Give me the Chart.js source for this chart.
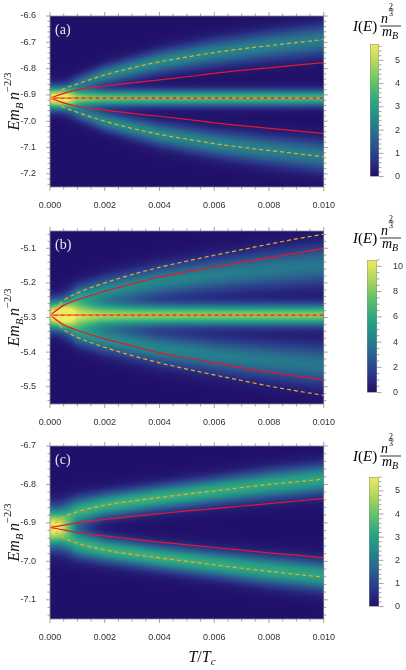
<!DOCTYPE html>
<html>
<head>
<meta charset="utf-8">
<script src="https://cdn.jsdelivr.net/npm/chart.js@4.4.1/dist/chart.umd.min.js"></script>
<style>
  body { margin: 0; background: #fff; }
  #wrap { position: relative; width: 406px; height: 670px; overflow: hidden; }
  canvas { position: absolute; }
</style>
</head>
<body>
<div id="wrap">
  <canvas id="pa" width="340" height="210" style="left:0;top:0"></canvas>
  <canvas id="pb" width="340" height="212" style="left:0;top:215px"></canvas>
  <canvas id="pc" width="340" height="240" style="left:0;top:430px"></canvas>
  <canvas id="ca" width="61" height="190" style="left:345px;top:0"></canvas>
  <canvas id="cb" width="61" height="196" style="left:345px;top:210px"></canvas>
  <canvas id="cc" width="61" height="190" style="left:345px;top:430px"></canvas>
</div>
<script>
const tVals = [0, 0.0005, 0.001, 0.002, 0.003, 0.004, 0.005, 0.006, 0.007, 0.008, 0.009, 0.010];
const xTicks = [0, 0.002, 0.004, 0.006, 0.008, 0.010];

// panel (a) curves
const aRedUp  = [-6.912, -6.894, -6.881, -6.866, -6.854, -6.843, -6.831, -6.818, -6.807, -6.797, -6.787, -6.777];
const aRedMid = [-6.912, -6.912, -6.912, -6.912, -6.912, -6.912, -6.912, -6.912, -6.912, -6.912, -6.912, -6.912];
const aRedLow = [-6.912, -6.930, -6.943, -6.958, -6.970, -6.981, -6.993, -7.006, -7.017, -7.027, -7.037, -7.046];
const aOrUp   = [-6.912, -6.877, -6.858, -6.824, -6.797, -6.774, -6.756, -6.739, -6.725, -6.713, -6.701, -6.689];
const aOrMid  = [-6.912, -6.912, -6.912, -6.912, -6.912, -6.912, -6.912, -6.912, -6.912, -6.912, -6.912, -6.912];
const aOrLow  = [-6.912, -6.947, -6.966, -7.000, -7.027, -7.050, -7.068, -7.085, -7.099, -7.111, -7.123, -7.135];
const aYTicks = [-7.2, -7.1, -7.0, -6.9, -6.8, -6.7, -6.6];

// panel (b) curves
const bRedUp  = [-5.293, -5.265, -5.249, -5.224, -5.203, -5.183, -5.168, -5.154, -5.140, -5.127, -5.114, -5.101];
const bRedMid = [-5.293, -5.293, -5.293, -5.293, -5.293, -5.293, -5.293, -5.293, -5.293, -5.293, -5.293, -5.293];
const bRedLow = [-5.293, -5.321, -5.337, -5.362, -5.382, -5.402, -5.417, -5.431, -5.445, -5.458, -5.469, -5.480];
const bOrUp   = [-5.293, -5.251, -5.229, -5.200, -5.176, -5.155, -5.137, -5.120, -5.104, -5.088, -5.073, -5.059];
const bOrMid  = [-5.293, -5.293, -5.293, -5.293, -5.293, -5.293, -5.293, -5.293, -5.293, -5.293, -5.293, -5.293];
const bOrLow  = [-5.293, -5.335, -5.357, -5.386, -5.410, -5.431, -5.449, -5.466, -5.482, -5.498, -5.512, -5.525];
const bYTicks = [-5.5, -5.4, -5.3, -5.2, -5.1];

// panel (c) curves
const cRedUp  = [-6.912, -6.906, -6.900, -6.891, -6.883, -6.876, -6.869, -6.863, -6.856, -6.850, -6.843, -6.837];
const cRedLow = [-6.912, -6.918, -6.925, -6.934, -6.942, -6.950, -6.957, -6.964, -6.971, -6.978, -6.984, -6.991];
const cOrUp   = [-6.912, -6.885, -6.871, -6.854, -6.843, -6.834, -6.825, -6.817, -6.808, -6.800, -6.793, -6.786];
const cOrLow  = [-6.912, -6.939, -6.953, -6.970, -6.982, -6.991, -7.000, -7.009, -7.018, -7.026, -7.034, -7.041];
const cYTicks = [-7.1, -7.0, -6.9, -6.8, -6.7];

// spectral bands (centre, side-band shift, peak height, width)
const bandT = [0, 0.001, 0.002, 0.004, 0.006, 0.008, 0.010];
const aMidPeak   = [5.6, 4.4, 4.0, 3.8, 3.7, 3.7, 3.6];
const aMidWidth  = [0.030, 0.022, 0.021, 0.021, 0.021, 0.021, 0.021];
const aSideShift = [0, 0.054, 0.088, 0.138, 0.173, 0.199, 0.221];
const aSidePeak  = [0, 1.9, 2.5, 2.5, 2.4, 2.3, 2.2];
const aSideWidth = [0.030, 0.022, 0.025, 0.030, 0.034, 0.037, 0.040];

const bMidPeak   = [10.2, 8.7, 8.3, 8.1, 8.0, 8.0, 8.0];
const bMidWidth  = [0.028, 0.023, 0.022, 0.021, 0.021, 0.021, 0.021];
const bSideShift = [0, 0.050, 0.070, 0.098, 0.117, 0.132, 0.145];
const bSidePeak  = [0, 5.0, 4.7, 4.4, 4.1, 3.9, 3.8];
const bSideWidth = [0.030, 0.025, 0.027, 0.031, 0.034, 0.037, 0.040];

const cMidPeak   = [0, 0, 0, 0, 0, 0, 0];
const cMidWidth  = [0.02, 0.02, 0.02, 0.02, 0.02, 0.02, 0.02];
const cSideShift = [0, 0.041, 0.058, 0.078, 0.095, 0.112, 0.126];
const cSidePeak  = [2.9, 3.4, 3.4, 3.4, 3.3, 3.2, 3.1];
const cSideWidth = [0.033, 0.025, 0.022, 0.022, 0.023, 0.025, 0.026];

// colour bars
const aBarTicks = [0, 1, 2, 3, 4, 5];
const bBarTicks = [0, 2, 4, 6, 8, 10];
const cBarTicks = [0, 1, 2, 3, 4, 5];

const cmapPos = [0, 0.14, 0.28, 0.42, 0.56, 0.70, 0.84, 1];
const cmapCol = ["#21106a", "#2a3889", "#2b5f8e", "#24868c", "#2aa583", "#5ec06b", "#a8d55c", "#eeeb60"];

const RED = "#e5162f";
const ORANGE = "#f5a623";
const SERIF = '"Liberation Serif", "DejaVu Serif", serif';
const SANS = '"Liberation Sans", Arial, sans-serif';

const panels = {
  pa: { label: "(a)", yMin: -7.25, yMax: -6.6, yTicks: aYTicks, center: -6.912, xAxisH: 23, cbMax: 5.7,
        red: [aRedUp, aRedMid, aRedLow], orange: [aOrUp, aOrMid, aOrLow],
        midPeak: aMidPeak, midWidth: aMidWidth, sideShift: aSideShift, sidePeak: aSidePeak, sideWidth: aSideWidth },
  pb: { label: "(b)", yMin: -5.55, yMax: -5.05, yTicks: bYTicks, center: -5.293, xAxisH: 23, cbMax: 10.5,
        red: [bRedUp, bRedMid, bRedLow], orange: [bOrUp, bOrMid, bOrLow],
        midPeak: bMidPeak, midWidth: bMidWidth, sideShift: bSideShift, sidePeak: bSidePeak, sideWidth: bSideWidth },
  pc: { label: "(c)", yMin: -7.15, yMax: -6.7, yTicks: cYTicks, center: -6.912, xAxisH: 51, cbMax: 5.6, xTitle: true,
        red: [cRedUp, cRedLow], orange: [cOrUp, cOrLow],
        midPeak: cMidPeak, midWidth: cMidWidth, sideShift: cSideShift, sidePeak: cSidePeak, sideWidth: cSideWidth }
};

const bars = {
  ca: { max: 5.7, ticks: aBarTicks, minor: 0.2, pad: { left: 25, top: 44, bottom: 7, right: 0 }, axisW: 27, top: 0, labelY: 26 },
  cb: { max: 10.5, ticks: bBarTicks, minor: 0.5, pad: { left: 22, top: 50, bottom: 7, right: 0 }, axisW: 29, top: 210, labelY: 238 },
  cc: { max: 5.6, ticks: cBarTicks, minor: 0.2, pad: { left: 24, top: 47, bottom: 6, right: 0 }, axisW: 27, top: 430, labelY: 456 }
};

function hexRgb(h) {
  return [parseInt(h.slice(1, 3), 16), parseInt(h.slice(3, 5), 16), parseInt(h.slice(5, 7), 16)];
}
const cmapRgb = cmapCol.map(hexRgb);

function colorAt(f) {
  f = Math.max(0, Math.min(1, f));
  for (let i = 1; i < cmapPos.length; i++) {
    if (f <= cmapPos[i]) {
      const k = (f - cmapPos[i - 1]) / (cmapPos[i] - cmapPos[i - 1]);
      const a = cmapRgb[i - 1], b = cmapRgb[i];
      return [a[0] + k * (b[0] - a[0]), a[1] + k * (b[1] - a[1]), a[2] + k * (b[2] - a[2])];
    }
  }
  return cmapRgb[cmapRgb.length - 1];
}

function lerpAt(xs, ys, x) {
  for (let i = 1; i < xs.length; i++) {
    if (x <= xs[i]) {
      const k = (x - xs[i - 1]) / (xs[i] - xs[i - 1]);
      return ys[i - 1] + k * (ys[i] - ys[i - 1]);
    }
  }
  return ys[ys.length - 1];
}

function gauss(d, w) {
  return Math.exp(-(d * d) / (2 * w * w));
}

// heat map painted under the curves, pixel by pixel through the chart scales
const heatPlugin = {
  id: "heat",
  beforeDatasetsDraw(chart) {
    const p = panels[chart.canvas.id];
    const ca = chart.chartArea;
    const xs = chart.scales.x, ys = chart.scales.y;
    const w = Math.round(ca.right - ca.left), h = Math.round(ca.bottom - ca.top);
    const off = document.createElement("canvas");
    off.width = w; off.height = h;
    const octx = off.getContext("2d");
    const img = octx.createImageData(w, h);
    for (let i = 0; i < w; i++) {
      const t = Math.max(0, xs.getValueForPixel(ca.left + i + 0.5));
      const mp = lerpAt(bandT, p.midPeak, t), mw = lerpAt(bandT, p.midWidth, t);
      const sh = lerpAt(bandT, p.sideShift, t), sp = lerpAt(bandT, p.sidePeak, t), sw = lerpAt(bandT, p.sideWidth, t);
      for (let j = 0; j < h; j++) {
        const e = ys.getValueForPixel(ca.top + j + 0.5);
        const d = e - p.center;
        const val = mp * gauss(d, mw) + sp * (gauss(d - sh, sw) + gauss(d + sh, sw));
        const c = colorAt(val / p.cbMax);
        const idx = (j * w + i) * 4;
        img.data[idx] = c[0]; img.data[idx + 1] = c[1]; img.data[idx + 2] = c[2]; img.data[idx + 3] = 255;
      }
    }
    octx.putImageData(img, 0, 0);
    chart.ctx.drawImage(off, ca.left, ca.top);
  }
};

function drawRun(ctx, x, y, parts) {
  let cx = x;
  parts.forEach(([t, s, dy, it]) => {
    ctx.font = (it ? "italic " : "") + s + "px " + SERIF;
    ctx.fillText(t, cx, y + dy);
    cx += ctx.measureText(t).width;
  });
  return cx - x;
}
function runWidth(ctx, parts) {
  let w = 0;
  parts.forEach(([t, s, dy, it]) => {
    ctx.font = (it ? "italic " : "") + s + "px " + SERIF;
    w += ctx.measureText(t).width;
  });
  return w;
}

// frame, outward ticks (major + minor), axis titles and panel letter
const framePlugin = {
  id: "frame",
  afterDraw(chart) {
    const p = panels[chart.canvas.id];
    const ctx = chart.ctx, ca = chart.chartArea;
    const xs = chart.scales.x, ys = chart.scales.y;
    ctx.save();
    ctx.strokeStyle = "#8c8c8c";
    ctx.lineWidth = 0.8;
    ctx.strokeRect(ca.left, ca.top, ca.right - ca.left, ca.bottom - ca.top);
    ctx.beginPath();
    for (let k = 0; k <= 20; k++) {
      const px = xs.getPixelForValue(k * 0.0005);
      const len = k % 4 === 0 ? 4 : 2.5;
      ctx.moveTo(px, ca.bottom); ctx.lineTo(px, ca.bottom + len);
      ctx.moveTo(px, ca.top); ctx.lineTo(px, ca.top - len);
    }
    const k0 = Math.ceil(p.yMin / 0.02 - 1e-6), k1 = Math.floor(p.yMax / 0.02 + 1e-6);
    for (let k = k0; k <= k1; k++) {
      const py = ys.getPixelForValue(k * 0.02);
      const len = k % 5 === 0 ? 4 : 2.5;
      ctx.moveTo(ca.left, py); ctx.lineTo(ca.left - len, py);
      ctx.moveTo(ca.right, py); ctx.lineTo(ca.right + len, py);
    }
    ctx.stroke();

    // panel letter
    ctx.fillStyle = "#e6e6f2";
    ctx.font = "14px " + SERIF;
    ctx.textBaseline = "alphabetic";
    ctx.fillText(p.label, ca.left + 5, ca.top + 18);

    // y title  E m_B n^{-2/3}
    ctx.fillStyle = "#111";
    const yParts = [["E", 16, 0, true], ["m", 16, 0, true], ["B", 10.5, 3.5, true], [" ", 11, 0, false],
                    ["n", 16, 0, true], ["\u22122/3", 10.5, -8.5, false]];
    ctx.save();
    ctx.translate(19, (ca.top + ca.bottom) / 2);
    ctx.rotate(-Math.PI / 2);
    drawRun(ctx, -runWidth(ctx, yParts) / 2, 0, yParts);
    ctx.restore();

    if (p.xTitle) {
      const xParts = [["T", 16, 0, true], ["/", 16, 0, false], ["T", 16, 0, true], ["c", 11, 3, true]];
      drawRun(ctx, 202 - runWidth(ctx, xParts) / 2, 232, xParts);
    }
    ctx.restore();
  }
};

function lineSet(arr, color, dash, order) {
  return {
    data: tVals.map((t, i) => ({ x: t, y: arr[i] })),
    borderColor: color,
    borderWidth: 1.2,
    borderDash: dash,
    pointRadius: 0,
    fill: false,
    cubicInterpolationMode: "monotone",
    order: order
  };
}

Object.keys(panels).forEach(id => {
  const p = panels[id];
  const sets = [];
  p.orange.forEach(a => sets.push(lineSet(a, ORANGE, [4, 3], 0)));
  p.red.forEach(a => sets.push(lineSet(a, RED, [], 1)));
  new Chart(document.getElementById(id), {
    type: "line",
    data: { datasets: sets },
    plugins: [heatPlugin, framePlugin],
    options: {
      responsive: false,
      animation: false,
      layout: { padding: { left: 0, right: 13, top: 16, bottom: 0 } },
      plugins: { legend: { display: false }, tooltip: { enabled: false } },
      scales: {
        x: {
          type: "linear", min: 0, max: 0.01,
          grid: { display: false }, border: { display: false },
          afterBuildTicks: s => { s.ticks = xTicks.map(v => ({ value: v })); },
          ticks: { callback: v => Number(v).toFixed(3), color: "#333", font: { family: SANS, size: 9 },
                   padding: 5, maxRotation: 0, autoSkip: false },
          afterFit: s => { s.height = p.xAxisH; }
        },
        y: {
          type: "linear", min: p.yMin, max: p.yMax,
          grid: { display: false }, border: { display: false },
          afterBuildTicks: s => { s.ticks = p.yTicks.map(v => ({ value: v })); },
          ticks: { callback: v => Number(v).toFixed(1), color: "#333", font: { family: SANS, size: 9 },
                   padding: 6, autoSkip: false },
          afterFit: s => { s.width = 50; }
        }
      }
    }
  });
});

// colour bar ticks and the I(E) n^{2/3}/m_B label
const barPlugin = {
  id: "barDeco",
  afterDraw(chart) {
    const b = bars[chart.canvas.id];
    const ctx = chart.ctx, ca = chart.chartArea, ys = chart.scales.y;
    ctx.save();
    ctx.strokeStyle = "#8c8c8c";
    ctx.lineWidth = 0.8;
    ctx.beginPath();
    const ratio = Math.round((b.ticks[1] - b.ticks[0]) / b.minor);
    const n = Math.floor(b.max / b.minor + 1e-6);
    for (let k = 0; k <= n; k++) {
      const py = ys.getPixelForValue(k * b.minor);
      const len = k % ratio === 0 ? 4.5 : 2.5;
      ctx.moveTo(ca.right, py); ctx.lineTo(ca.right + len, py);
    }
    ctx.stroke();

    const by = b.labelY - b.top;
    const x0 = 353 - 345;
    ctx.fillStyle = "#000";
    ctx.textBaseline = "alphabetic";
    drawRun(ctx, x0, by + 5, [["I", 15, 0, true], ["(", 15, 0, false], ["E", 15, 0, true], [")", 15, 0, false]]);
    const fx = 380 - 345;
    drawRun(ctx, fx + 1, by - 3, [["n", 14, 0, true]]);
    ctx.font = "8px " + SERIF;
    ctx.fillText("2", fx + 9, by - 17.5);
    ctx.fillText("3", fx + 9, by - 10);
    ctx.beginPath();
    ctx.lineWidth = 0.6;
    ctx.strokeStyle = "#000";
    ctx.moveTo(fx + 8.5, by - 16); ctx.lineTo(fx + 14, by - 16);
    ctx.stroke();
    ctx.beginPath();
    ctx.lineWidth = 0.8;
    ctx.moveTo(fx, by); ctx.lineTo(fx + 21, by);
    ctx.stroke();
    drawRun(ctx, fx + 2, by + 10, [["m", 14, 0, true], ["B", 10, 3, true]]);
    ctx.restore();
  }
};

Object.keys(bars).forEach(id => {
  const b = bars[id];
  new Chart(document.getElementById(id), {
    type: "bar",
    data: {
      labels: [""],
      datasets: [{
        data: [[0, b.max]],
        backgroundColor: ctx => {
          const ca = ctx.chart.chartArea;
          if (!ca) return "#21106a";
          const g = ctx.chart.ctx.createLinearGradient(0, ca.bottom, 0, ca.top);
          cmapPos.forEach((s, i) => g.addColorStop(s, cmapCol[i]));
          return g;
        },
        borderColor: "#8c8c8c",
        borderWidth: 0.8,
        borderSkipped: false,
        barPercentage: 1,
        categoryPercentage: 1
      }]
    },
    plugins: [barPlugin],
    options: {
      responsive: false,
      animation: false,
      layout: { padding: b.pad },
      plugins: { legend: { display: false }, tooltip: { enabled: false } },
      scales: {
        x: { display: false },
        y: {
          position: "right", min: 0, max: b.max,
          grid: { display: false }, border: { display: false },
          afterBuildTicks: s => { s.ticks = b.ticks.map(v => ({ value: v })); },
          ticks: { color: "#333", font: { family: SANS, size: 9 }, padding: 8, autoSkip: false },
          afterFit: s => { s.width = b.axisW; }
        }
      }
    }
  });
});
</script>
</body>
</html>
